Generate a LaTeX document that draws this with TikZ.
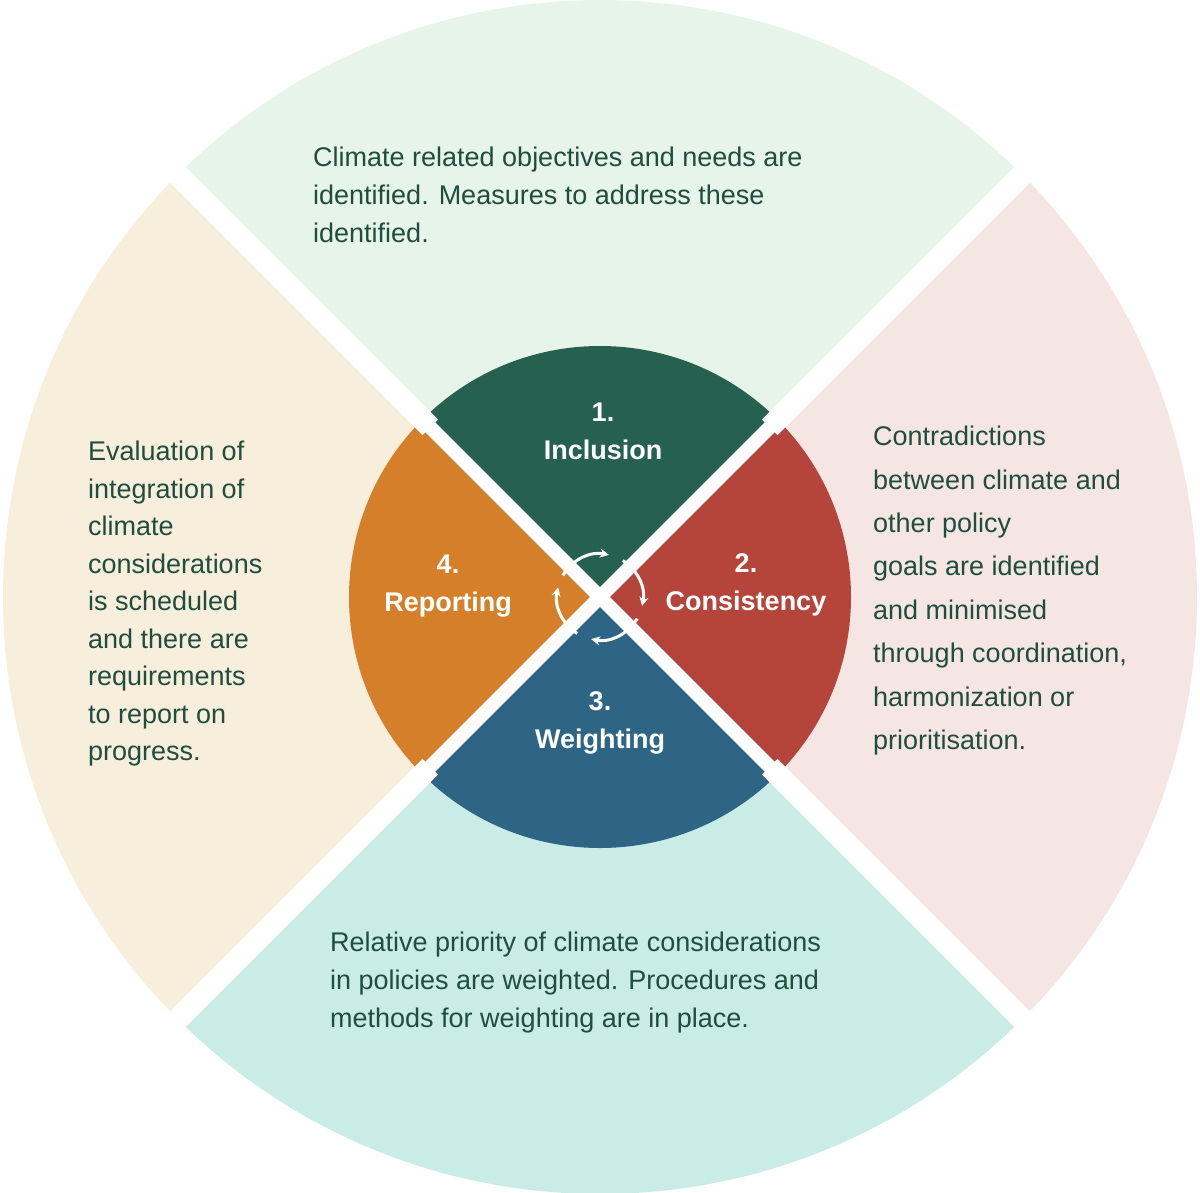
\documentclass[tikz,border=0pt]{standalone}
\usepackage{fontspec}
\setmainfont{Liberation Sans}
\usetikzlibrary{arrows.meta}
\definecolor{oTop}{HTML}{E6F4EA}
\definecolor{oRight}{HTML}{F6E6E3}
\definecolor{oBot}{HTML}{C9ECE6}
\definecolor{oLeft}{HTML}{F7EEDB}
\definecolor{iTop}{HTML}{26614F}
\definecolor{iRight}{HTML}{B5443A}
\definecolor{iBot}{HTML}{2E6584}
\definecolor{iLeft}{HTML}{D67F2A}
\definecolor{txt}{HTML}{1F4D3E}
\tikzset{
 desc/.style={anchor=north west,inner sep=0pt,align=left,text=txt,font=\fontsize{27}{38}\selectfont},
 lab/.style={text=white,font=\bfseries\fontsize{27}{38}\selectfont,align=center,inner sep=0pt},
 cyc/.style={white,line width=3pt,-{Stealth[length=9pt,width=9pt]}}
}
\begin{document}
\begin{tikzpicture}[x=1pt,y=-1pt]
\useasboundingbox (0,0) rectangle (1200,1193);
\coordinate (c) at (600,597);
\foreach \a/\col in {-135/oTop,-45/oRight,45/oBot,135/oLeft}{
 \fill[\col] (c) -- ++(\a:597) arc[start angle=\a,end angle=\a+90,radius=597] -- cycle;}
\foreach \a/\col in {-135/iTop,-45/iRight,45/iBot,135/iLeft}{
 \fill[\col] (c) -- ++(\a:251) arc[start angle=\a,end angle=\a+90,radius=251] -- cycle;}
\foreach \a in {45,135,225,315}{
 \draw[white,line width=22pt] (c) ++(\a:240) -- ++(\a:380);
 \draw[white,line width=14pt] (c) -- ++(\a:255);}
\draw[cyc] (c) ++(-150:43) arc[start angle=-150,end angle=-78,radius=43];
\draw[cyc] (c) ++(-58:43) arc[start angle=-58,end angle=12,radius=43];
\draw[cyc] (c) ++(30:43) arc[start angle=30,end angle=102,radius=43];
\draw[cyc] (c) ++(122:43) arc[start angle=122,end angle=193,radius=43];
\node[lab] (l1) at (603,431) {1.\\Inclusion};
\node[lab] (l2) at (746,585) {2.\\Consistency};
\node[lab] (l3) at (600,723) {3.\\Weighting};
\node[lab] (l4) at (448,586) {4.\\Reporting};
\node[desc] (t1) at (313,147) {Climate related objectives and needs are\\identified. Measures to address these\\identified.};
\node[desc,font=\fontsize{27}{43.4}\selectfont] (t2) at (873,426) {Contradictions\\between climate and\\other policy\\goals are identified\\and minimised\\through coordination,\\harmonization or\\prioritisation.};
\node[desc,font=\fontsize{27}{37.5}\selectfont] (t4) at (88,441) {Evaluation of\\integration of\\climate\\considerations\\is scheduled\\and there are\\requirements\\to report on\\progress.};
\node[desc] (t3) at (330,932) {Relative priority of climate considerations\\in policies are weighted. Procedures and\\methods for weighting are in place.};
\end{tikzpicture}
\end{document}
